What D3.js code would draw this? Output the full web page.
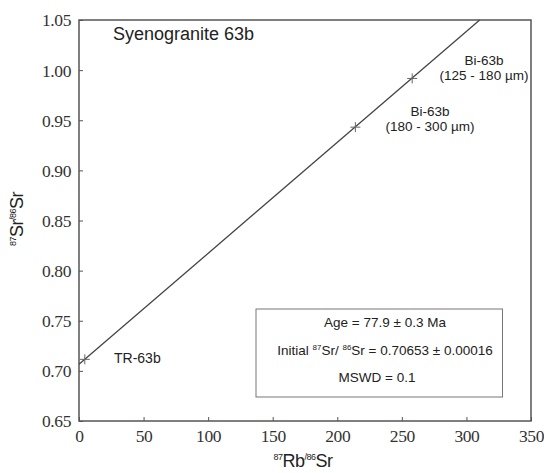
<!DOCTYPE html>
<html>
<head>
<meta charset="utf-8">
<script src="https://cdn.jsdelivr.net/npm/d3@7"></script>
<style>
  html, body { margin: 0; padding: 0; background: #fff; }
  svg { display: block; }
</style>
</head>
<body>
<div id="chart"></div>
<script>
// ---- data ----
const sampleNames = ["TR-63b", "Bi-63b (180 - 300 µm)", "Bi-63b (125 - 180 µm)"];
const rbSr = [4.5, 214, 258];          // 87Rb/86Sr
const srSr = [0.7115, 0.9431, 0.9917]; // 87Sr/86Sr
const isochronIntercept = 0.70653;
const isochronSlope = 0.001107;
const xTicks = [0, 50, 100, 150, 200, 250, 300, 350];
const yTicks = [0.65, 0.70, 0.75, 0.80, 0.85, 0.90, 0.95, 1.00, 1.05];
const title = "Syenogranite 63b";

const SERIF = '"Liberation Serif", serif';
const SANS = '"Liberation Sans", Arial, sans-serif';

const W = 544, H = 473;
const m = { left: 79, top: 20, right: 544 - 531, bottom: 473 - 421 };

const svg = d3.select("#chart").append("svg").attr("width", W).attr("height", H);

const x = d3.scaleLinear().domain([0, 350]).range([m.left, W - m.right]);
const y = d3.scaleLinear().domain([0.65, 1.05]).range([H - m.bottom, m.top]);

const axisColor = "#555";

// frame
svg.append("rect")
  .attr("x", x(0)).attr("y", y(1.05))
  .attr("width", x(350) - x(0)).attr("height", y(0.65) - y(1.05))
  .attr("fill", "none").attr("stroke", axisColor).attr("stroke-width", 1.5);

// axes
const xAxis = svg.append("g").attr("transform", `translate(0,${y(0.65)})`)
  .call(d3.axisBottom(x).tickValues(xTicks).tickSize(-4).tickPadding(9).tickFormat(d3.format("d")));
const yAxis = svg.append("g").attr("transform", `translate(${x(0)},0)`)
  .call(d3.axisLeft(y).tickValues(yTicks).tickSize(-4).tickPadding(8).tickFormat(d3.format(".2f")));
[xAxis, yAxis].forEach(g => {
  g.select(".domain").remove();
  g.selectAll(".tick line").attr("stroke", axisColor).attr("stroke-width", 1);
  g.selectAll(".tick text").attr("fill", "#333")
    .style("font-family", SERIF).style("font-size", "17.5px").style("letter-spacing", "-0.4px");
});
xAxis.selectAll(".tick text").attr("dy", "0.71em");
yAxis.selectAll(".tick text").attr("dy", "0.34em");

// isochron line (clipped to top of plot)
const xEnd = (1.05 - isochronIntercept) / isochronSlope;
svg.append("line")
  .attr("x1", x(0)).attr("y1", y(isochronIntercept))
  .attr("x2", x(xEnd)).attr("y2", y(1.05))
  .attr("stroke", "#444").attr("stroke-width", 1.3);

// data crosses
const cs = 5;
rbSr.forEach((v, i) => {
  const cx = x(v), cy = y(srSr[i]);
  svg.append("line").attr("x1", cx - cs).attr("x2", cx + cs).attr("y1", cy).attr("y2", cy)
    .attr("stroke", "#666").attr("stroke-width", 1);
  svg.append("line").attr("x1", cx).attr("x2", cx).attr("y1", cy - cs).attr("y2", cy + cs)
    .attr("stroke", "#666").attr("stroke-width", 1);
});

// title
svg.append("text").attr("x", 113).attr("y", 40)
  .style("font-family", SANS).style("font-size", "18px").attr("fill", "#222").text(title);

// point labels
function label(lines, cx, by) {
  lines.forEach((t, k) => {
    svg.append("text").attr("x", cx).attr("y", by + k * 15)
      .attr("text-anchor", "middle").style("font-family", SANS).style("font-size", "13.5px")
      .attr("fill", "#222").text(t);
  });
}
label(["Bi-63b", "(125 - 180 µm)"], 484, 65);
label(["Bi-63b", "(180 - 300 µm)"], 430, 116);
svg.append("text").attr("x", 114).attr("y", 363)
  .style("font-family", SANS).style("font-size", "14px").attr("fill", "#222").text(sampleNames[0]);

// result box
svg.append("rect").attr("x", 256).attr("y", 309).attr("width", 246.5).attr("height", 88)
  .attr("fill", "#fff").attr("stroke", "#777").attr("stroke-width", 1);
const boxFont = "13.5px";
svg.append("text").attr("x", 385).attr("y", 327).attr("text-anchor", "middle")
  .style("font-family", SANS).style("font-size", boxFont).attr("fill", "#222")
  .text("Age = 77.9 ± 0.3 Ma");
const l2 = svg.append("text").attr("x", 385).attr("y", 355).attr("text-anchor", "middle")
  .style("font-family", SANS).style("font-size", boxFont).attr("fill", "#222");
l2.append("tspan").text("Initial  ");
l2.append("tspan").style("font-size", "8px").attr("dy", -5).text("87");
l2.append("tspan").attr("dy", 5).text("Sr/ ");
l2.append("tspan").style("font-size", "8px").attr("dy", -5).text("86");
l2.append("tspan").attr("dy", 5).text("Sr = 0.70653 ± 0.00016");
svg.append("text").attr("x", 377).attr("y", 382).attr("text-anchor", "middle")
  .style("font-family", SANS).style("font-size", boxFont).attr("fill", "#222")
  .text("MSWD = 0.1");

// axis titles
function ratioTitle(g, a, b, c, d) {
  g.append("tspan").style("font-size", "9px").attr("dy", -7).text(a);
  g.append("tspan").style("font-size", "18px").attr("dy", 7).text(b);
  g.append("tspan").style("font-size", "9px").attr("dy", -7).text(c);
  g.append("tspan").style("font-size", "18px").attr("dy", 7).text(d);
}
const xt = svg.append("text").attr("x", 303).attr("y", 467).attr("text-anchor", "middle")
  .style("font-family", SANS).attr("fill", "#222").style("letter-spacing", "-0.5px");
ratioTitle(xt, "87", "Rb", "/86", "Sr");
const yt = svg.append("text").attr("transform", "translate(23,219) rotate(-90)")
  .attr("text-anchor", "middle").style("font-family", SANS).attr("fill", "#222")
  .style("letter-spacing", "-0.5px");
ratioTitle(yt, "87", "Sr", "/86", "Sr");
</script>
</body>
</html>
